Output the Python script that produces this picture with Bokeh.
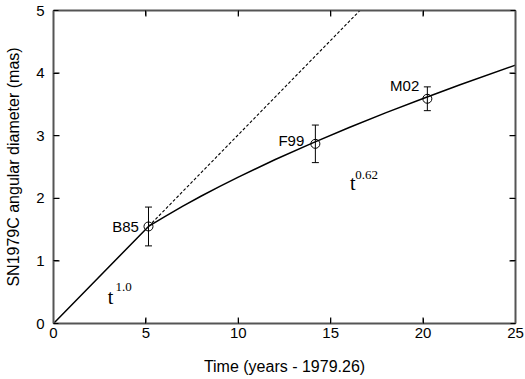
from bokeh.plotting import figure
from bokeh.models import LinearAxis, FixedTicker, Whisker, ColumnDataSource, TeeHead
from bokeh.core.properties import value
from bokeh.embed import file_html
from bokeh.resources import INLINE

# ---- data ----
epochs = ["B85", "F99", "M02"]
t_obs = [5.14, 14.17, 20.23]
diam = [1.55, 2.87, 3.59]
diam_err = [0.31, 0.30, 0.19]

# model curve: t^1.0 up to B85, then t^0.62
fit_t = [0.0, 5.14, 6.0, 7.0, 8.0, 9.0, 10.0, 12.0, 14.0, 16.0, 18.0, 20.0, 22.0, 25.0]
fit_d = [0.0, 1.55, 1.704, 1.875, 2.037, 2.191, 2.339, 2.619, 2.881, 3.130, 3.368, 3.595, 3.813, 4.128]

# free-expansion (t^1.0) extrapolation
lin_t = [5.14, 16.58]
lin_d = [1.55, 5.0]

x_ticks = [0, 5, 10, 15, 20, 25]
y_ticks = [0, 1, 2, 3, 4, 5]
X_MIN, X_MAX = 0, 25
Y_MIN, Y_MAX = 0, 5

# annotation anchors
epoch_label_x = [4.62, 13.57, 19.79]
epoch_label_y = [1.55, 2.92, 3.80]
pow_base_x = [2.93, 16.05]
pow_base_y = [0.43, 2.25]
pow_exp_x = [3.36, 16.33]
pow_exp_y = [0.59, 2.38]
pow_exp_text = ["1.0", "0.62"]

SANS = "Liberation Sans"
SERIF = "Liberation Serif"
FRAME = "#555555"
W, H = 525, 379
B_LEFT, B_RIGHT, B_TOP, B_BOTTOM = 53, 10, 10, 56
TICK_PX = 6

p = figure(width=W, height=H, x_range=(X_MIN, X_MAX), y_range=(Y_MIN, Y_MAX),
           output_backend="svg", toolbar_location=None,
           min_border_left=B_LEFT, min_border_right=B_RIGHT, min_border_top=B_TOP,
           min_border_bottom=B_BOTTOM)
p.grid.visible = False
p.outline_line_color = None

for ax in (p.xaxis[0], p.yaxis[0]):
    ax.axis_line_color = FRAME
    ax.axis_line_width = 2
    ax.major_tick_in = 5
    ax.major_tick_out = 0
    ax.minor_tick_line_color = None
    ax.major_tick_line_color = "black"
    ax.major_tick_line_width = 1
    ax.major_label_text_font = SANS
    ax.major_label_text_font_size = "15px"
    ax.major_label_text_color = "black"
    ax.axis_label_text_font = SANS
    ax.axis_label_text_font_size = "16px"
    ax.axis_label_text_font_style = "normal"
    ax.axis_label_text_color = "black"

p.xaxis[0].ticker = FixedTicker(ticks=x_ticks)
p.yaxis[0].ticker = FixedTicker(ticks=y_ticks)
p.xaxis[0].axis_label = "Time (years - 1979.26)"
p.yaxis[0].axis_label = "SN1979C angular diameter (mas)"
p.xaxis[0].major_label_standoff = 4
p.xaxis[0].axis_label_standoff = 17
p.yaxis[0].major_label_standoff = 9
p.yaxis[0].axis_label_standoff = 11

for loc, ticks in (("above", x_ticks), ("right", y_ticks)):
    ax = LinearAxis(ticker=FixedTicker(ticks=ticks), axis_line_color=FRAME,
                    axis_line_width=2,
                    major_tick_in=5, major_tick_out=0,
                    minor_tick_line_color=None, major_tick_line_color="black",
                    major_label_text_color=None, major_label_text_alpha=0,
                    major_label_text_font_size="1px", major_label_standoff=0)
    p.add_layout(ax, loc)

# inward tick marks on all four sides (segments, length converted from pixels)
dx = TICK_PX * (X_MAX - X_MIN) / (W - B_LEFT - B_RIGHT)
dy = TICK_PX * (Y_MAX - Y_MIN) / (H - B_TOP - B_BOTTOM)
inner_x = x_ticks[1:-1]
inner_y = y_ticks[1:-1]
n_x, n_y = len(inner_x), len(inner_y)
seg_kw = dict(line_color="black", line_width=1.2)
p.segment(x0=inner_x, y0=[Y_MIN] * n_x, x1=inner_x, y1=[Y_MIN + dy] * n_x, **seg_kw)
p.segment(x0=inner_x, y0=[Y_MAX] * n_x, x1=inner_x, y1=[Y_MAX - dy] * n_x, **seg_kw)
p.segment(x0=[X_MIN] * n_y, y0=inner_y, x1=[X_MIN + dx] * n_y, y1=inner_y, **seg_kw)
p.segment(x0=[X_MAX] * n_y, y0=inner_y, x1=[X_MAX - dx] * n_y, y1=inner_y, **seg_kw)

# curves
p.line(fit_t, fit_d, line_color="black", line_width=1.5)
p.line(lin_t, lin_d, line_color="black", line_width=1.1, line_dash="3 2")

# error bars
src = ColumnDataSource(dict(
    t=t_obs,
    upper=[d + e for d, e in zip(diam, diam_err)],
    lower=[d - e for d, e in zip(diam, diam_err)],
))
p.add_layout(Whisker(base="t", upper="upper", lower="lower", source=src,
                     line_color="black", line_width=1,
                     upper_head=TeeHead(size=7, line_color="black", line_width=1),
                     lower_head=TeeHead(size=7, line_color="black", line_width=1)))

p.scatter(t_obs, diam, marker="circle", size=9, fill_color=None,
          line_color="black", line_width=1)

p.text(x=epoch_label_x, y=epoch_label_y, text=epochs, text_align="right",
       text_baseline="middle", text_font=value(SANS), text_font_size="15px",
       text_color="black")
p.text(x=pow_base_x, y=pow_base_y, text=["t", "t"], text_align="left",
       text_baseline="alphabetic", text_font=value(SERIF), text_font_size="20px",
       text_color="black")
p.text(x=pow_exp_x, y=pow_exp_y, text=pow_exp_text, text_align="left",
       text_baseline="alphabetic", text_font=value(SERIF), text_font_size="13px",
       text_color="black")

open("out.html", "w").write(file_html(p, INLINE))
